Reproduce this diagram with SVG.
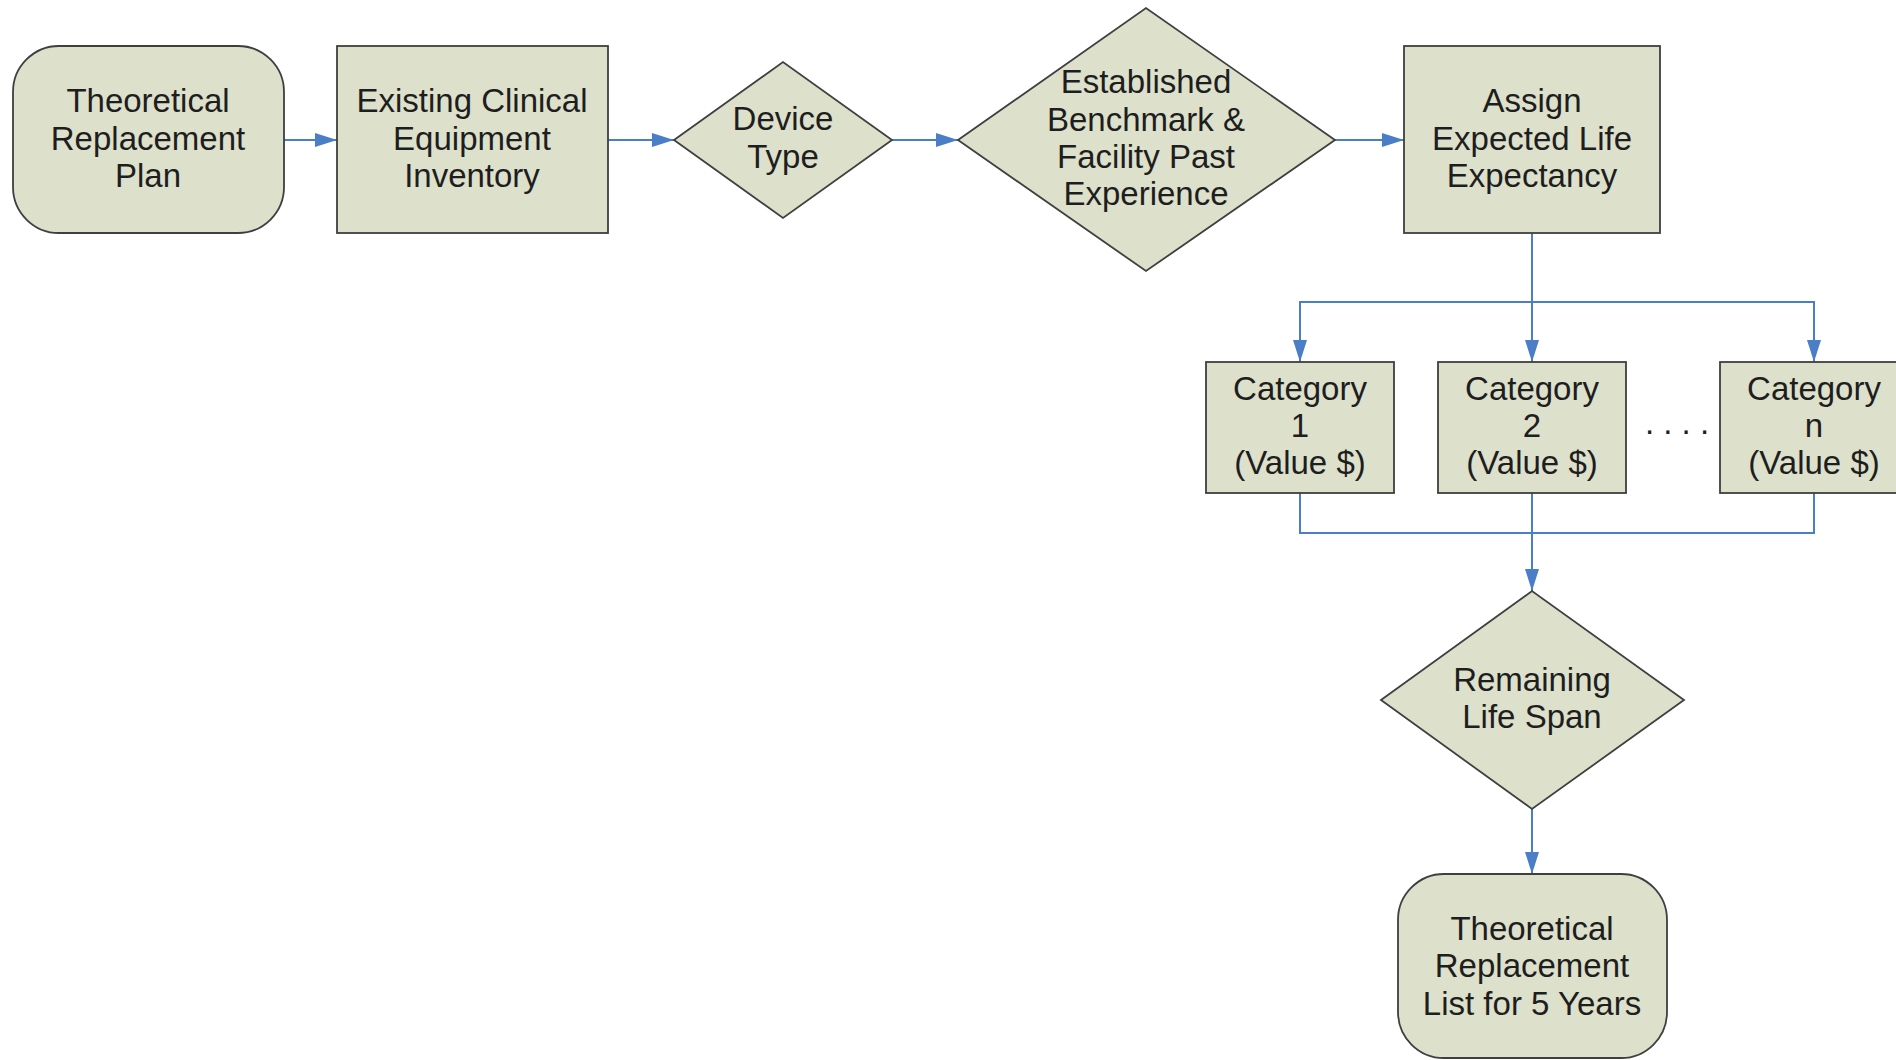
<svg xmlns="http://www.w3.org/2000/svg" width="1896" height="1060" viewBox="0 0 1896 1060">
<defs>
<style>
.shape{fill:#DDE0CB;stroke:#3F3F3F;stroke-width:1.8}
.lbl{font-family:"Liberation Sans",Arial,sans-serif;font-size:33px;fill:#1E1E1E;text-anchor:middle}
.con{fill:none;stroke:#4A7EC7;stroke-width:2}
</style>
<marker id="ah" markerUnits="userSpaceOnUse" markerWidth="22" markerHeight="14" refX="22" refY="7" orient="auto">
<path d="M0,0 L22,7 L0,14 Z" fill="#4A7EC7"/>
</marker>
</defs>
<rect width="1896" height="1060" fill="#FFFFFF"/>
<g id="connectors">
<line class="con" x1="284" y1="140" x2="337" y2="140" marker-end="url(#ah)"/>
<line class="con" x1="608" y1="140" x2="674" y2="140" marker-end="url(#ah)"/>
<line class="con" x1="892" y1="140" x2="958" y2="140" marker-end="url(#ah)"/>
<line class="con" x1="1335" y1="140" x2="1404" y2="140" marker-end="url(#ah)"/>
<line class="con" x1="1532" y1="233" x2="1532" y2="362" marker-end="url(#ah)"/>
<path class="con" d="M1532,302 H1300 V362" marker-end="url(#ah)"/>
<path class="con" d="M1532,302 H1814 V362" marker-end="url(#ah)"/>
<path class="con" d="M1300,493 V533 H1814 V493"/>
<line class="con" x1="1532" y1="493" x2="1532" y2="591" marker-end="url(#ah)"/>
<line class="con" x1="1532" y1="809" x2="1532" y2="874" marker-end="url(#ah)"/>
</g>
<g id="n1">
<rect class="shape" x="13" y="46" width="271" height="187" rx="46" ry="46"/>
<text class="lbl" x="148" y="112">Theoretical</text>
<text class="lbl" x="148" y="150">Replacement</text>
<text class="lbl" x="148" y="187">Plan</text>
</g>
<g id="n2">
<rect class="shape" x="337" y="46" width="271" height="187"/>
<text class="lbl" x="472" y="112">Existing Clinical</text>
<text class="lbl" x="472" y="150">Equipment</text>
<text class="lbl" x="472" y="187">Inventory</text>
</g>
<g id="n3">
<polygon class="shape" points="674,140 783,62 892,140 783,218"/>
<text class="lbl" x="783" y="130">Device</text>
<text class="lbl" x="783" y="168">Type</text>
</g>
<g id="n4">
<polygon class="shape" points="958,140 1146,8 1335,140 1146,271"/>
<text class="lbl" x="1146" y="93">Established</text>
<text class="lbl" x="1146" y="131">Benchmark &amp;</text>
<text class="lbl" x="1146" y="168">Facility Past</text>
<text class="lbl" x="1146" y="205">Experience</text>
</g>
<g id="n5">
<rect class="shape" x="1404" y="46" width="256" height="187"/>
<text class="lbl" x="1532" y="112">Assign</text>
<text class="lbl" x="1532" y="150">Expected Life</text>
<text class="lbl" x="1532" y="187">Expectancy</text>
</g>
<g id="cat1">
<rect class="shape" x="1206" y="362" width="188" height="131"/>
<text class="lbl" x="1300" y="400">Category</text>
<text class="lbl" x="1300" y="437">1</text>
<text class="lbl" x="1300" y="474">(Value $)</text>
</g>
<g id="cat2">
<rect class="shape" x="1438" y="362" width="188" height="131"/>
<text class="lbl" x="1532" y="400">Category</text>
<text class="lbl" x="1532" y="437">2</text>
<text class="lbl" x="1532" y="474">(Value $)</text>
</g>
<g id="dots">
<text class="lbl" x="1677" y="434">. . . .</text>
</g>
<g id="catn">
<rect class="shape" x="1720" y="362" width="188" height="131"/>
<text class="lbl" x="1814" y="400">Category</text>
<text class="lbl" x="1814" y="437">n</text>
<text class="lbl" x="1814" y="474">(Value $)</text>
</g>
<g id="n6">
<polygon class="shape" points="1381,700 1532,591 1684,700 1532,809"/>
<text class="lbl" x="1532" y="691">Remaining</text>
<text class="lbl" x="1532" y="728">Life Span</text>
</g>
<g id="n7">
<rect class="shape" x="1398" y="874" width="269" height="184" rx="46" ry="46"/>
<text class="lbl" x="1532" y="940">Theoretical</text>
<text class="lbl" x="1532" y="977">Replacement</text>
<text class="lbl" x="1532" y="1015">List for 5 Years</text>
</g>
</svg>
